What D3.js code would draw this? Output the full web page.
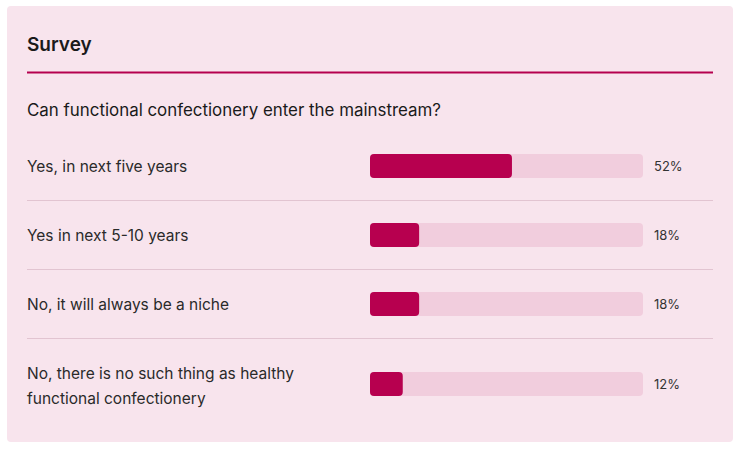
<!DOCTYPE html>
<html><head><meta charset="utf-8">
<script src="https://cdn.jsdelivr.net/npm/d3@7"></script>
<style>
html,body{margin:0;padding:0;background:#fff;}
svg{display:block;font-family:Inter, "Noto Sans", sans-serif;}
</style></head>
<body><svg id="c" width="741" height="451"></svg>
<script>
const title = "Survey";
const question = "Can functional confectionery enter the mainstream?";
const categories = [
  ["Yes, in next five years"],
  ["Yes in next 5-10 years"],
  ["No, it will always be a niche"],
  ["No, there is no such thing as healthy", "functional confectionery"]
];
const values = [52, 18, 18, 12];

const svg = d3.select("#c");
svg.append("rect").attr("x",7).attr("y",6).attr("width",726).attr("height",436).attr("rx",4).attr("fill","#f8e4ed");
svg.append("text").attr("x",27).attr("y",51).attr("font-size",19).attr("font-weight",600).attr("fill","#1a1a1a").text(title);
svg.append("line").attr("x1",27).attr("x2",713).attr("y1",72.5).attr("y2",72.5).attr("stroke","#b5004f").attr("stroke-width",2);
svg.append("text").attr("x",27).attr("y",116).attr("font-size",16.9).attr("fill","#1a1a1a").text(question);

const rowTops = [131, 200, 269, 338];
const rowCenters = [166, 235, 304, 384];
const x = d3.scaleLinear().domain([0,100]).range([370,643]);
const g = svg.append("g");
values.forEach((v,i)=>{
  const cy = rowCenters[i];
  if(i>0) g.append("line").attr("x1",27).attr("x2",713).attr("y1",rowTops[i]+0.5).attr("y2",rowTops[i]+0.5).attr("stroke","#e2c4d1").attr("stroke-width",1);
  const lines = categories[i];
  const t = g.append("text").attr("x",27).attr("font-size",15.5).attr("fill","#2a2a2a");
  lines.forEach((l,j)=>{
    t.append("tspan").attr("x",27).attr("y", cy + 6 + (j - (lines.length-1)/2)*25 + (lines.length>1?1:0)).text(l);
  });
  g.append("rect").attr("x",x(0)).attr("y",cy-12).attr("width",x(100)-x(0)).attr("height",24).attr("rx",4).attr("fill","#f1cddd");
  g.append("rect").attr("x",x(0)).attr("y",cy-12).attr("width",x(v)-x(0)).attr("height",24).attr("rx",4).attr("fill","#b7004f");
  g.append("text").attr("x",654).attr("y",cy+5).attr("font-size",13).attr("fill","#333").text(v+"%");
});
</script></body></html>
